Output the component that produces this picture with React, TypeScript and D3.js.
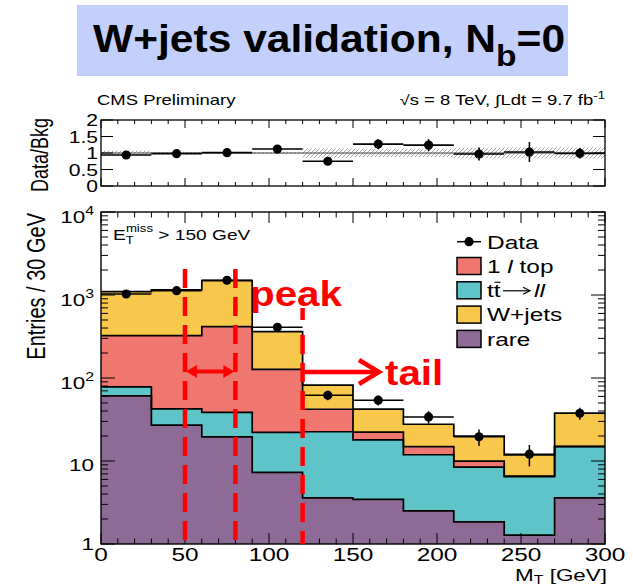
import React from 'react';
import * as d3 from 'd3';

// ---------------- data ----------------
const binEdges = [0, 30, 60, 90, 120, 150, 180, 210, 240, 270, 300];
const processKeys = ['rare', 'ttll', 'top1l', 'wjets'];
const rare = [61, 27, 19.5, 7.3, 3.6, 3.45, 2.5, 1.85, 1.28, 3.6];
const ttll = [17, 15.5, 19, 14.8, 18.9, 14.5, 9.4, 6.6, 5.2, 11.3];
const top1l = [246, 282, 377, 105, 19.5, 4.3, 3.0, 1.5, 0.1, 0.1];
const wjets = [773, 826, 1075, 234, 40, 20, 12.8, 10, 5.3, 22.6];
const dataVals = [1028, 1127, 1505, 408, 62, 54, 34, 19.6, 12.1, 37.6];
const dataErr = [32, 34, 39, 20, 8, 7.3, 5.8, 4.4, 3.5, 6.1];
const ratioVals = [0.94, 0.98, 1.01, 1.12, 0.75, 1.27, 1.24, 0.97, 1.03, 0.99];
const ratioErr = [0.03, 0.03, 0.03, 0.06, 0.08, 0.15, 0.18, 0.2, 0.3, 0.16];
const bandLo = [0.93, 0.97, 0.97, 0.97, 0.85, 0.88, 0.88, 0.84, 0.84, 0.83];
const bandHi = [1.07, 1.03, 1.03, 1.03, 1.14, 1.13, 1.13, 1.16, 1.17, 1.17];
const xTickLabels = [0, 50, 100, 150, 200, 250, 300];
const mainYTicks = [1, 10, 100, 1000, 10000];
const ratioYTicks = [0, 0.5, 1, 1.5, 2];
const ratioYLabels = ['0', '0.5', '1', '1.5', '2'];
const peakLines = [50, 80];
const tailLine = 120;

const colors: Record<string, string> = {
  rare: '#8e6b97',
  ttll: '#5fc4c8',
  top1l: '#f07670',
  wjets: '#f8c84c',
};

// ---------------- layout ----------------
const W = 633, H = 587;
const X0 = 101, X1 = 605;
const MY0 = 544, MY1 = 212;
const RY0 = 186, RY1 = 120;
const SX = 1.32;
const FONT = "'Liberation Sans', Arial, Helvetica, sans-serif";

const x = d3.scaleLinear().domain([0, 300]).range([X0, X1]);
const y = d3.scaleLog().domain([1, 1e4]).range([MY0, MY1]);
const yr = d3.scaleLinear().domain([0, 2]).range([RY0, RY1]);

const rows = binEdges.slice(0, -1).map((e, i) => ({
  rare: rare[i], ttll: ttll[i], top1l: top1l[i], wjets: wjets[i],
}));
const stacked = d3.stack<any>().keys(processKeys)(rows);

type StepPt = { e: number; lo: number; hi: number };
function stepPoints(s: any): StepPt[] {
  const pts: StepPt[] = binEdges.slice(0, -1).map((e, i) => ({ e, lo: s[i][0], hi: s[i][1] }));
  const last = s[s.length - 1];
  pts.push({ e: binEdges[binEdges.length - 1], lo: last[0], hi: last[1] });
  return pts;
}
const area = d3.area<StepPt>()
  .curve(d3.curveStepAfter)
  .x(d => x(d.e))
  .y0(d => y(Math.max(d.lo, 1)))
  .y1(d => y(Math.max(d.hi, 1)));
const topLine = d3.line<StepPt>()
  .curve(d3.curveStepAfter)
  .x(d => x(d.e))
  .y(d => y(Math.max(d.hi, 1)));

function ST(props: any) {
  const { x: tx, y: ty, sx = SX, rotate, anchor = 'start', size, weight, fill = '#000', style, children } = props;
  return (
    <text
      transform={`translate(${tx},${ty}) scale(${sx},1)${rotate ? ` rotate(${rotate})` : ''}`}
      textAnchor={anchor}
      fontSize={size}
      fontWeight={weight}
      fill={fill}
      fontFamily={FONT}
      style={style}
    >
      {children}
    </text>
  );
}

const legendEntries = [
  { key: 'top1l', row: 1 },
  { key: 'ttll', row: 2 },
  { key: 'wjets', row: 3 },
  { key: 'rare', row: 4 },
];
const LEG_X = 457, LEG_Y0 = 241.7, LEG_DY = 24.3;

export default function App() {
  const minorX = d3.range(0, 301, 10);
  const minorLog: number[] = [];
  for (let dec = 1; dec < 1e4; dec *= 10) for (let m = 2; m <= 9; m++) minorLog.push(dec * m);

  return (
    <svg width={W} height={H} style={{ position: 'absolute', left: 0, top: 0, background: '#fff' }}>
      <defs>
        <clipPath id="mainClip">
          <rect x={X0} y={MY1} width={X1 - X0} height={MY0 - MY1} />
        </clipPath>
        <pattern id="hatch" width="4" height="4" patternUnits="userSpaceOnUse">
          <path d="M-1,1 l2,-2 M0,4 l4,-4 M3,5 l2,-2" stroke="#9a9a9a" strokeWidth="0.9" />
        </pattern>
      </defs>
      <rect x={0} y={0} width={W} height={H} fill="#fff" />

      {/* title box */}
      <rect x={77} y={5} width={491} height={71} fill="#c4d0fc" />
      <ST x={93} y={52} sx={1.12} size={38} weight="bold">
        W+jets validation, N
        <tspan fontSize={30} dy={14}>b</tspan>
        <tspan fontSize={38} dy={-14}>=0</tspan>
      </ST>

      {/* header texts */}
      <ST x={97} y={105} size={14}>CMS Preliminary</ST>
      <ST x={605} y={105} size={14} anchor="end">
        √s = 8 TeV, ∫Ldt = 9.7 fb<tspan fontSize={10} dy={-6}>-1</tspan>
      </ST>

      {/* ratio panel */}
      <g>
        {bandLo.map((lo, i) => (
          <rect key={'b' + i} x={x(binEdges[i])} width={x(binEdges[i + 1]) - x(binEdges[i])}
            y={yr(bandHi[i])} height={yr(lo) - yr(bandHi[i])} fill="url(#hatch)" />
        ))}
        <line x1={X0} x2={X1} y1={yr(1)} y2={yr(1)} stroke="#444" strokeWidth={1.2} />
        {ratioVals.map((r, i) => {
          const cx = x((binEdges[i] + binEdges[i + 1]) / 2);
          return (
            <g key={'r' + i}>
              <line x1={x(binEdges[i])} x2={x(binEdges[i + 1])} y1={yr(r)} y2={yr(r)} stroke="#000" strokeWidth={1.6} />
              <line x1={cx} x2={cx} y1={yr(r - ratioErr[i])} y2={yr(r + ratioErr[i])} stroke="#000" strokeWidth={1.6} />
              <circle cx={cx} cy={yr(r)} r={4.6} fill="#000" />
            </g>
          );
        })}
        <rect x={X0} y={RY1} width={X1 - X0} height={RY0 - RY1} fill="none" stroke="#000" strokeWidth={1.3} />
        {minorX.map(v => {
          const len = v % 50 === 0 ? 8 : 4;
          return (
            <g key={'rx' + v}>
              <line x1={x(v)} x2={x(v)} y1={RY0} y2={RY0 - len} stroke="#000" strokeWidth={1} />
              <line x1={x(v)} x2={x(v)} y1={RY1} y2={RY1 + len} stroke="#000" strokeWidth={1} />
            </g>
          );
        })}
        {ratioYTicks.map((v, i) => (
          <g key={'ry' + v}>
            <line x1={X0} x2={X0 + 12} y1={yr(v)} y2={yr(v)} stroke="#000" strokeWidth={1} />
            <line x1={X1} x2={X1 - 12} y1={yr(v)} y2={yr(v)} stroke="#000" strokeWidth={1} />
            <ST x={98} y={yr(v) + 6} size={16} anchor="end">{ratioYLabels[i]}</ST>
          </g>
        ))}
        <ST x={48} y={118} size={18} anchor="end" rotate={-90}>Data/Bkg</ST>
      </g>

      {/* main panel */}
      <g clipPath="url(#mainClip)">
        {stacked.map(s => (
          <path key={s.key} d={area(stepPoints(s)) || ''} fill={colors[s.key]} />
        ))}
        {stacked.map(s => (
          <path key={'l' + s.key} d={topLine(stepPoints(s)) || ''} fill="none" stroke="#000" strokeWidth={1.7} />
        ))}
      </g>
      {dataVals.map((v, i) => {
        const cx = x((binEdges[i] + binEdges[i + 1]) / 2);
        return (
          <g key={'d' + i}>
            <line x1={x(binEdges[i])} x2={x(binEdges[i + 1])} y1={y(v)} y2={y(v)} stroke="#000" strokeWidth={1.5} />
            <line x1={cx} x2={cx} y1={y(v - dataErr[i])} y2={y(v + dataErr[i])} stroke="#000" strokeWidth={1.5} />
            <circle cx={cx} cy={y(v)} r={4.6} fill="#000" />
          </g>
        );
      })}
      <rect x={X0} y={MY1} width={X1 - X0} height={MY0 - MY1} fill="none" stroke="#000" strokeWidth={1.4} />
      {minorX.map(v => {
        const len = v % 50 === 0 ? 11 : 5.5;
        return (
          <g key={'mx' + v}>
            <line x1={x(v)} x2={x(v)} y1={MY0} y2={MY0 - len} stroke="#000" strokeWidth={1} />
            <line x1={x(v)} x2={x(v)} y1={MY1} y2={MY1 + len} stroke="#000" strokeWidth={1} />
          </g>
        );
      })}
      {mainYTicks.map(v => (
        <g key={'my' + v}>
          <line x1={X0} x2={X0 + 14} y1={y(v)} y2={y(v)} stroke="#000" strokeWidth={1} />
          <line x1={X1} x2={X1 - 14} y1={y(v)} y2={y(v)} stroke="#000" strokeWidth={1} />
        </g>
      ))}
      {minorLog.map(v => (
        <g key={'ml' + v}>
          <line x1={X0} x2={X0 + 7} y1={y(v)} y2={y(v)} stroke="#000" strokeWidth={1} />
          <line x1={X1} x2={X1 - 7} y1={y(v)} y2={y(v)} stroke="#000" strokeWidth={1} />
        </g>
      ))}
      {mainYTicks.map(v => {
        const exp = Math.round(Math.log10(v));
        if (exp === 0) return <ST key={'yl' + v} x={94} y={y(v) + 6} size={17} anchor="end">1</ST>;
        if (exp === 1) return <ST key={'yl' + v} x={94} y={y(v) + 10} size={17} anchor="end">10</ST>;
        return (
          <ST key={'yl' + v} x={94} y={y(v) + 11} size={17} anchor="end">
            10<tspan fontSize={12} dy={-8}>{exp}</tspan>
          </ST>
        );
      })}
      {xTickLabels.map(v => (
        <ST key={'xl' + v} x={x(v)} y={561} size={18.5} anchor="middle">{v}</ST>
      ))}
      <ST x={607} y={581} size={17} anchor="end">
        M<tspan fontSize={12} dy={3}>T</tspan><tspan dy={-3}> [GeV]</tspan>
      </ST>
      <ST x={45} y={213} size={20} anchor="end" rotate={-90}>Entries / 30 GeV</ST>
      <ST x={113} y={240} size={14.5}>
        E<tspan fontSize={10} dy={4}>T</tspan><tspan fontSize={10} dx={-6} dy={-12}>miss</tspan><tspan fontSize={14.5} dy={8}> &gt; 150 GeV</tspan>
      </ST>

      {/* legend */}
      <line x1={LEG_X} x2={LEG_X + 24} y1={LEG_Y0} y2={LEG_Y0} stroke="#000" strokeWidth={1.5} />
      <circle cx={LEG_X + 12} cy={LEG_Y0} r={4.6} fill="#000" />
      <ST x={487} y={LEG_Y0 + 6.8} size={18.5}>Data</ST>
      {legendEntries.map(e => (
        <rect key={'lg' + e.key} x={LEG_X} y={LEG_Y0 + e.row * LEG_DY - 8.5} width={24} height={17}
          fill={colors[e.key]} stroke="#000" strokeWidth={1.5} />
      ))}
      <ST x={487} y={LEG_Y0 + LEG_DY + 6.8} size={18.5}>
        1 <tspan fontStyle="italic">l</tspan> top
      </ST>
      <ST x={487} y={LEG_Y0 + 2 * LEG_DY + 6.8} size={18.5}>tt</ST>
      <line x1={494.5} x2={500.5} y1={LEG_Y0 + 2 * LEG_DY - 8} y2={LEG_Y0 + 2 * LEG_DY - 8} stroke="#000" strokeWidth={1.1} />
      <line x1={503} x2={529} y1={LEG_Y0 + 2 * LEG_DY + 0.5} y2={LEG_Y0 + 2 * LEG_DY + 0.5} stroke="#000" strokeWidth={1.2} />
      <path d={`M523,${LEG_Y0 + 2 * LEG_DY - 3} L530,${LEG_Y0 + 2 * LEG_DY + 0.5} L523,${LEG_Y0 + 2 * LEG_DY + 4}`} fill="none" stroke="#000" strokeWidth={1.2} />
      <ST x={534} y={LEG_Y0 + 2 * LEG_DY + 6.8} size={18.5} style={{ fontStyle: 'italic' }}>ll</ST>
      <ST x={487} y={LEG_Y0 + 3 * LEG_DY + 6.8} size={18.5}>W+jets</ST>
      <ST x={487} y={LEG_Y0 + 4 * LEG_DY + 6.8} size={18.5}>rare</ST>

      {/* red annotations */}
      {peakLines.map(v => (
        <line key={'pk' + v} x1={x(v)} x2={x(v)} y1={269} y2={MY0} stroke="#ff0000" strokeWidth={4.5} strokeDasharray="19,9" />
      ))}
      <line x1={x(tailLine)} x2={x(tailLine)} y1={308} y2={MY0} stroke="#ff0000" strokeWidth={4.5} strokeDasharray="12,15,19,9,19,9,19,9,19,9,19,9,19,9,19,9,19,9,19,9" />
      <line x1={x(peakLines[0]) + 8} x2={x(peakLines[1]) - 8} y1={371.5} y2={371.5} stroke="#ff0000" strokeWidth={4} />
      <path d={`M${x(peakLines[0]) + 1},371.5 L${x(peakLines[0]) + 12},365 L${x(peakLines[0]) + 12},378 Z`} fill="#ff0000" />
      <path d={`M${x(peakLines[1]) - 1},371.5 L${x(peakLines[1]) - 12},365 L${x(peakLines[1]) - 12},378 Z`} fill="#ff0000" />
      <line x1={x(tailLine)} x2={378} y1={372} y2={372} stroke="#ff0000" strokeWidth={4.5} />
      <path d="M359,360 L379,372 L359,384" fill="none" stroke="#ff0000" strokeWidth={4.5} strokeLinejoin="miter" />
      <ST x={250} y={306} sx={1.12} size={36} weight="bold" fill="#ff0000">peak</ST>
      <ST x={385} y={385} sx={1.12} size={36} weight="bold" fill="#ff0000">tail</ST>
    </svg>
  );
}
